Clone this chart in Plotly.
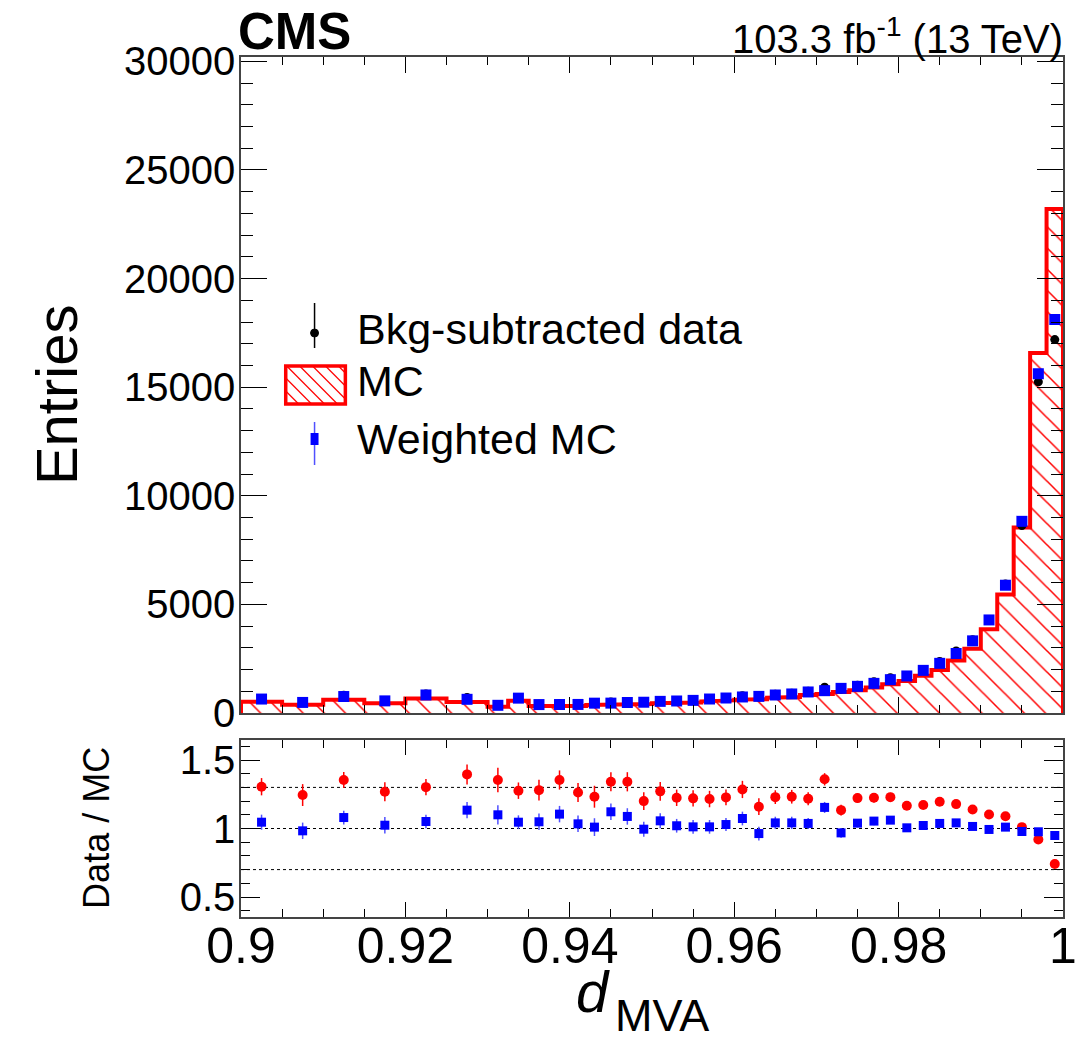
import plotly.graph_objects as go

# ---------------- data ----------------
bin_edges = [0.900, 0.905, 0.910, 0.915, 0.920, 0.925, 0.930,
             0.9325, 0.935, 0.9375, 0.940,
             0.942, 0.944, 0.946, 0.948, 0.950, 0.952, 0.954, 0.956, 0.958, 0.960,
             0.962, 0.964, 0.966, 0.968, 0.970, 0.972, 0.974, 0.976, 0.978, 0.980,
             0.982, 0.984, 0.986, 0.988, 0.990, 0.992, 0.994, 0.996, 0.998, 1.000]

mc_entries = [515, 384, 605, 450, 670, 512, 287, 560, 318, 318,
              322, 372, 380, 392, 412, 445, 461, 482, 537, 579,
              616, 636, 702, 740, 825, 873, 968, 1043, 1175, 1325,
              1470, 1713, 1984, 2421, 2960, 3860, 5450, 8545, 16570, 23200]

data_entries = [672, 478, 819, 571, 872, 714, 389, 715, 407, 431,
                407, 458, 510, 526, 494, 566, 564, 588, 652, 710,
                792, 737, 863, 912, 1004, 1186, 1098, 1275, 1438, 1628,
                1714, 2006, 2371, 2852, 3371, 4254, 5941, 8630, 15244, 17191]
data_err = [33, 31, 36, 31, 42, 39, 25, 35, 25, 24,
            24, 30, 27, 28, 27, 30, 28, 29, 32, 34,
            39, 39, 35, 37, 40, 39, 39, 37, 41, 42,
            41, 43, 44, 48, 50, 54, 66, 85, 116, 139]

wmc_entries = [642, 486, 758, 558, 830, 630, 354, 684, 388, 390,
               394, 453, 455, 483, 496, 536, 553, 581, 644, 690,
               738, 765, 829, 876, 968, 1028, 1134, 1227, 1364, 1534,
               1705, 1963, 2286, 2740, 3321, 4284, 5882, 8824, 15619, 18115]
wmc_err = [30, 28, 32, 28, 38, 35, 22, 32, 22, 22,
           22, 27, 25, 26, 25, 27, 26, 27, 30, 31,
           35, 36, 33, 34, 37, 37, 37, 35, 39, 40,
           40, 42, 43, 46, 48, 52, 62, 80, 110, 130]

ratio_data_mc = [1.305, 1.244, 1.354, 1.268, 1.302, 1.395, 1.354, 1.276, 1.280, 1.354,
                 1.263, 1.232, 1.341, 1.341, 1.200, 1.271, 1.224, 1.220, 1.215, 1.227,
                 1.285, 1.159, 1.229, 1.232, 1.217, 1.359, 1.134, 1.222, 1.224, 1.229,
                 1.166, 1.171, 1.195, 1.178, 1.139, 1.102, 1.090, 1.010, 0.920, 0.741]
ratio_data_mc_err = [.063, .080, .059, .070, .060, .073, .089, .060, .075, .070,
                     .070, .080, .070, .070, .065, .068, .060, .060, .060, .058,
                     .063, .061, .050, .050, .048, .045, .040, .035, .035, .032,
                     .028, .025, .022, .020, .017, .014, .012, .010, .007, .006]

ratio_data_wmc = [1.046, 0.983, 1.080, 1.024, 1.051, 1.134, 1.100, 1.046, 1.049, 1.105,
                  1.034, 1.010, 1.122, 1.088, 0.995, 1.056, 1.020, 1.012, 1.012, 1.029,
                  1.073, 0.963, 1.041, 1.041, 1.037, 1.154, 0.968, 1.039, 1.054, 1.061,
                  1.005, 1.022, 1.037, 1.041, 1.015, 0.993, 1.010, 0.978, 0.976, 0.949]
ratio_data_wmc_err = [.055, .060, .050, .060, .050, .060, .070, .050, .060, .060,
                      .060, .065, .060, .060, .055, .055, .050, .050, .050, .048,
                      .050, .050, .045, .045, .040, .040, .035, .030, .030, .028,
                      .025, .022, .020, .018, .015, .012, .010, .008, .006, .005]

ratio_ref_lines = [0.7, 1.0, 1.3]

legend_labels = ["Bkg-subtracted data", "MC", "Weighted MC"]
x_tick_vals = [0.9, 0.92, 0.94, 0.96, 0.98, 1.0]
x_tick_text = ["0.9", "0.92", "0.94", "0.96", "0.98", "1"]
y_tick_vals = [0, 5000, 10000, 15000, 20000, 25000, 30000]
y_tick_text = ["0", "5000", "10000", "15000", "20000", "25000", "30000"]
r_tick_vals = [0.5, 1.0, 1.5]
r_tick_text = ["0.5", "1", "1.5"]

# ---------------- derived geometry ----------------
centers = [(a + b) / 2 for a, b in zip(bin_edges[:-1], bin_edges[1:])]
widths = [b - a for a, b in zip(bin_edges[:-1], bin_edges[1:])]

step_x = [bin_edges[0]]
step_y = [0]
for i, v in enumerate(mc_entries):
    step_x += [bin_edges[i], bin_edges[i + 1]]
    step_y += [v, v]
step_x.append(bin_edges[-1])
step_y.append(0)

W, H = 1089, 1041
ML, MR, MT, MB = 241, 21, 57, 124
PW, PH = W - ML - MR, H - MT - MB


def px_x(p):
    return (p - ML) / PW


def px_y(p):
    return (H - MB - p) / PH


FONT = "Liberation Sans, Arial, Helvetica, sans-serif"
RED = "#ff0000"
BLUE = "#0000ff"

fig = go.Figure()

# MC histogram: hatched fill + step outline
fig.add_trace(go.Bar(
    x=centers, y=mc_entries, width=widths, xaxis="x", yaxis="y",
    marker=dict(color="white", line=dict(width=0),
                pattern=dict(shape="\\", fgcolor=RED, bgcolor="white",
                             size=15, solidity=0.1, fillmode="replace")),
    showlegend=False, hoverinfo="skip"))
fig.add_trace(go.Scatter(
    x=step_x, y=step_y, mode="lines", xaxis="x", yaxis="y",
    line=dict(color=RED, width=4), showlegend=False, hoverinfo="skip"))

# Data points
fig.add_trace(go.Scatter(
    x=centers, y=data_entries, mode="markers", xaxis="x", yaxis="y",
    marker=dict(color="black", size=9, symbol="circle"),
    error_y=dict(type="data", array=data_err, color="black", thickness=1.5, width=0),
    showlegend=False))
# Weighted MC
fig.add_trace(go.Scatter(
    x=centers, y=wmc_entries, mode="markers", xaxis="x", yaxis="y",
    marker=dict(color=BLUE, size=11, symbol="square"),
    error_y=dict(type="data", array=wmc_err, color=BLUE, thickness=1.5, width=0),
    showlegend=False))

# Ratio panel
fig.add_trace(go.Scatter(
    x=centers, y=ratio_data_mc, mode="markers", xaxis="x2", yaxis="y2",
    marker=dict(color=RED, size=10, symbol="circle"),
    error_y=dict(type="data", array=ratio_data_mc_err, color=RED, thickness=1.5, width=0),
    showlegend=False))
fig.add_trace(go.Scatter(
    x=centers, y=ratio_data_wmc, mode="markers", xaxis="x2", yaxis="y2",
    marker=dict(color=BLUE, size=9, symbol="square"),
    error_y=dict(type="data", array=ratio_data_wmc_err, color="#5050ff", thickness=1.5, width=0),
    showlegend=False))

shapes = []
for v in ratio_ref_lines:
    shapes.append(dict(type="line", xref="x2", yref="y2", x0=bin_edges[0], x1=bin_edges[-1],
                       y0=v, y1=v, line=dict(color="black", width=1, dash="3px,3px"), layer="below"))

# ---- manual legend ----
# data symbol
shapes.append(dict(type="line", xref="paper", yref="paper", x0=px_x(315), x1=px_x(315),
                   y0=px_y(303), y1=px_y(348), line=dict(color="black", width=1.5)))
shapes.append(dict(type="circle", xref="paper", yref="paper", x0=px_x(311), x1=px_x(319),
                   y0=px_y(329), y1=px_y(337), fillcolor="black", line=dict(color="black", width=1)))
# MC box with hatch
bx0, bx1, by0, by1 = 286, 346, 366, 404
step = 13
c = bx0 - (by1 - by0)
while c < bx1:
    h = by1 - by0
    xa, ya = c, by0
    xb, yb = c + h, by1
    if xa < bx0:
        ya += bx0 - xa
        xa = bx0
    if xb > bx1:
        yb -= xb - bx1
        xb = bx1
    if xb > xa:
        shapes.append(dict(type="line", xref="paper", yref="paper", x0=px_x(xa), x1=px_x(xb),
                           y0=px_y(ya), y1=px_y(yb), line=dict(color=RED, width=1.2)))
    c += step
shapes.append(dict(type="rect", xref="paper", yref="paper", x0=px_x(bx0), x1=px_x(bx1),
                   y0=px_y(by0), y1=px_y(by1), line=dict(color=RED, width=3.5)))
# weighted MC symbol
shapes.append(dict(type="line", xref="paper", yref="paper", x0=px_x(315), x1=px_x(315),
                   y0=px_y(422), y1=px_y(465), line=dict(color="#5050ff", width=1.5)))
shapes.append(dict(type="rect", xref="paper", yref="paper", x0=px_x(311), x1=px_x(319),
                   y0=px_y(433), y1=px_y(445), fillcolor=BLUE, line=dict(color=BLUE, width=0)))

annotations = []
for lab, yc in zip(legend_labels, [329, 381, 439]):
    annotations.append(dict(text=lab, xref="paper", yref="paper", x=px_x(356), y=px_y(yc),
                            xanchor="left", yanchor="middle", showarrow=False,
                            font=dict(family=FONT, size=43, color="black")))

annotations += [
    dict(text="<b>CMS</b>", xref="paper", yref="paper", x=px_x(236), y=px_y(31),
         xanchor="left", yanchor="middle", showarrow=False,
         font=dict(family=FONT, size=51, color="black")),
    dict(text="103.3 fb<sup>-1</sup> (13 TeV)", xref="paper", yref="paper", x=px_x(1070), y=px_y(36),
         xanchor="right", yanchor="middle", showarrow=False,
         font=dict(family=FONT, size=40, color="black")),
    dict(text="Entries", xref="paper", yref="paper", x=px_x(55), y=px_y(395),
         xanchor="center", yanchor="middle", textangle=-90, showarrow=False,
         font=dict(family=FONT, size=58, color="black")),
    dict(text="Data / MC", xref="paper", yref="paper", x=px_x(95), y=px_y(828),
         xanchor="center", yanchor="middle", textangle=-90, showarrow=False,
         font=dict(family=FONT, size=36, color="black")),
    dict(text="<i>d</i>", xref="paper", yref="paper", x=px_x(614), y=px_y(991),
         xanchor="right", yanchor="middle", showarrow=False,
         font=dict(family=FONT, size=58, color="black")),
    dict(text="MVA", xref="paper", yref="paper", x=px_x(615), y=px_y(1015),
         xanchor="left", yanchor="middle", showarrow=False,
         font=dict(family=FONT, size=45, color="black")),
]

axis_common = dict(showline=True, linecolor="#444444", linewidth=1.5, mirror="ticks",
                   ticks="inside", tickcolor="black", tickwidth=1.2, showgrid=False,
                   zeroline=False)

fig.update_layout(
    width=W, height=H,
    margin=dict(l=ML, r=MR, t=MT, b=MB, pad=0),
    paper_bgcolor="white", plot_bgcolor="white",
    font=dict(family=FONT, color="black"),
    barmode="overlay", bargap=0,
    showlegend=False,
    xaxis=dict(domain=[0, 1], anchor="y", range=[0.9, 1.0], tickvals=x_tick_vals,
               ticktext=x_tick_text, showticklabels=False, ticklen=16,
               minor=dict(dtick=0.005, tick0=0.9, ticks="inside", ticklen=8,
                          tickcolor="black", tickwidth=1.2, showgrid=False),
               **axis_common),
    yaxis=dict(domain=[(H - MB - 713) / PH, 1], anchor="x", range=[0, 30200],
               tickvals=y_tick_vals, ticktext=y_tick_text, ticklen=26,
               tickfont=dict(size=40), ticklabelstandoff=-4,
               minor=dict(dtick=1000, tick0=0, ticks="inside", ticklen=12,
                          tickcolor="black", tickwidth=1.2, showgrid=False),
               **axis_common),
    xaxis2=dict(domain=[0, 1], anchor="y2", matches="x", range=[0.9, 1.0],
                tickvals=x_tick_vals, ticktext=x_tick_text, ticklen=15,
                tickfont=dict(size=50), ticklabelstandoff=-16,
                minor=dict(dtick=0.005, tick0=0.9, ticks="inside", ticklen=8,
                           tickcolor="black", tickwidth=1.2, showgrid=False),
                **axis_common),
    yaxis2=dict(domain=[0, (H - MB - 740) / PH], anchor="x2", range=[0.354, 1.646],
                tickvals=r_tick_vals, ticktext=r_tick_text, ticklen=19,
                tickfont=dict(size=40), ticklabelstandoff=-4,
                minor=dict(dtick=0.1, tick0=0, ticks="inside", ticklen=9,
                           tickcolor="black", tickwidth=1.2, showgrid=False),
                **axis_common),
    shapes=shapes,
    annotations=annotations,
)

fig.write_html("out.html")
